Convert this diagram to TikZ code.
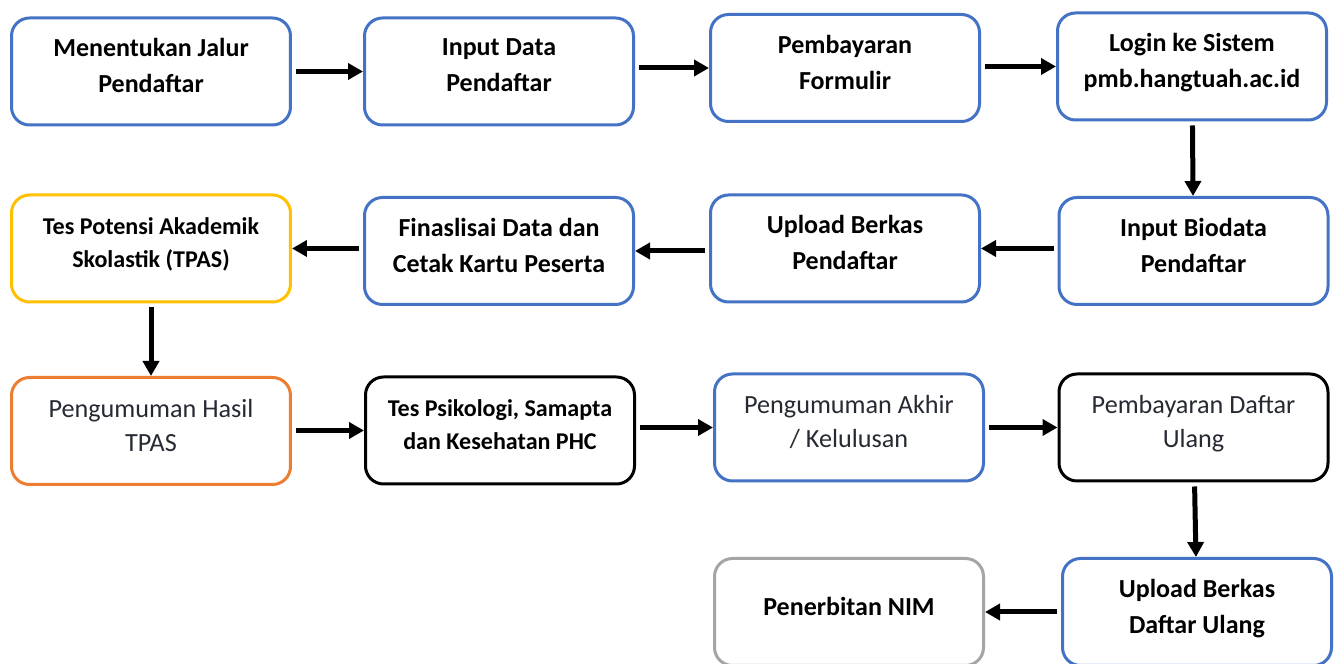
\documentclass[tikz,border=0pt]{standalone}
\usepackage{fontspec}
\setmainfont{Carlito}
\usetikzlibrary{arrows.meta,positioning}
\definecolor{pmbBlue}{HTML}{4472C4}
\definecolor{pmbGold}{HTML}{FFC000}
\definecolor{pmbOrange}{HTML}{ED7D31}
\definecolor{pmbGray}{HTML}{A5A5A5}
\definecolor{pmbText}{HTML}{262A33}
\tikzset{
  >=Stealth,
  every node/.append style={font=\fontsize{7.4}{10.2}\selectfont\bfseries},
}

\begin{document}
\begin{tikzpicture}[
  x=0.1mm, y=-0.1mm,
  stepbox/.style={draw, rounded corners=1.8mm, line width=0.3mm, fill=white,
                  minimum width=26.9mm, minimum height=10.7mm,
                  align=center, inner sep=1pt, text depth=1.2mm},
  wide/.style   ={minimum width=27.9mm},
  cBlue/.style  ={draw=pmbBlue},
  cGold/.style  ={draw=pmbGold},
  cOrange/.style={draw=pmbOrange},
  cBlack/.style ={draw=black},
  cGray/.style  ={draw=pmbGray},
  small/.style  ={font=\fontsize{6.85}{9.4}\selectfont\bfseries},
  plain/.style  ={font=\fontsize{7.45}{9.7}\selectfont, text=pmbText},
  arrow/.style  ={-{Triangle[length=1.5mm,width=1.6mm]}, line width=0.5mm, shorten <=0.4mm}
]
\useasboundingbox[fill=white] (0,0) rectangle (1340,664);

% baris 1
\node[stepbox,cBlue,wide] (jalur)  at (151,71.5)  {Menentukan Jalur\\Pendaftar};
\node[stepbox,cBlue]      (input)  at (499,71.5)  {Input Data\\Pendaftar};
\node[stepbox,cBlue]      (bayar)  at (845,68)    {Pembayaran\\Formulir};
\node[stepbox,cBlue]      (login)  at (1192,66.5) {Login ke Sistem\\pmb.hangtuah.ac.id};

% baris 2
\node[stepbox,cGold,wide,small] (tpas)   at (151,248.5)  {Tes Potensi Akademik\\Skolastik (TPAS)};
\node[stepbox,cBlue]            (final)  at (499,251)    {Finaslisai Data dan\\Cetak Kartu Peserta};
\node[stepbox,cBlue]            (upload) at (845,248.5)  {Upload Berkas\\Pendaftar};
\node[stepbox,cBlue]            (biodata) at (1193.5,251) {Input Biodata\\Pendaftar};

% baris 3
\node[stepbox,cOrange,wide,plain] (hasil)  at (151,431)    {Pengumuman Hasil\\TPAS};
\node[stepbox,cBlack,small]       (psiko)  at (500,430.5)  {Tes Psikologi, Samapta\\dan Kesehatan PHC};
\node[stepbox,cBlue,plain]        (akhir)  at (849,427.5)  {Pengumuman Akhir\\/ Kelulusan};
\node[stepbox,cBlack,plain]       (ulang)  at (1193.5,427.5) {Pembayaran Daftar\\Ulang};

% baris 4
\node[stepbox,cGray]  (nim)     at (849,612)  {Penerbitan NIM};
\node[stepbox,cBlue]  (berkas)  at (1197,612) {Upload Berkas\\Daftar Ulang};

% panah ke kanan
\foreach \a/\b in {jalur/input, input/bayar, bayar/login,
                   hasil/psiko, psiko/akhir, akhir/ulang}{
  \draw[arrow] (\a.east |- \b) -- (\b.west);
}
% panah ke kiri
\foreach \a/\b in {biodata/upload, upload/final, final/tpas, berkas/nim}{
  \draw[arrow] (\a.west |- \b) -- (\b.east);
}
% panah menurun
\foreach \a/\b in {login/biodata, tpas/hasil, ulang/berkas}{
  \draw[arrow] (\a) -- (\b);
}

\end{tikzpicture}
\end{document}
